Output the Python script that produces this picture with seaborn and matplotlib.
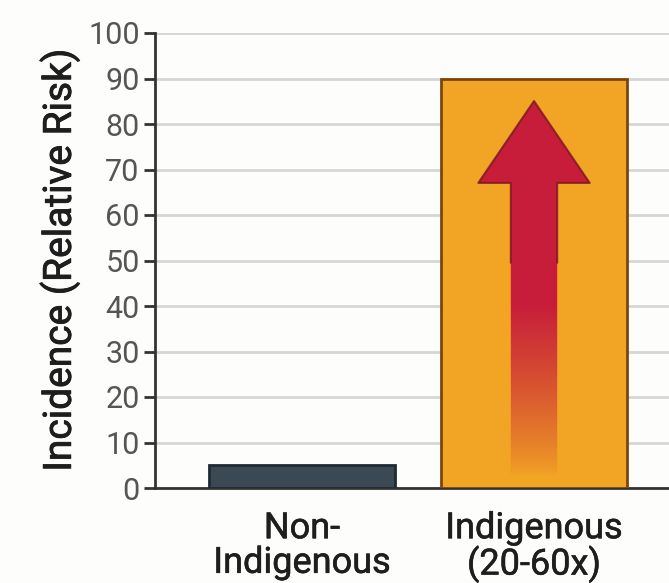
import numpy as np
import pandas as pd
import matplotlib
matplotlib.use("Agg")
import matplotlib.pyplot as plt
import seaborn as sns
from matplotlib.patches import Polygon
from matplotlib.colors import to_rgb
import matplotlib.patheffects as pe

categories = ["Non-\nIndigenous", "Indigenous\n(20-60x)"]
values = [5, 90]
y_ticks = [0, 10, 20, 30, 40, 50, 60, 70, 80, 90, 100]
y_label = "Incidence (Relative Risk)"

bar_colors = ["#3b4954", "#f2a424"]
edge_colors = ["#1f2a33", "#7a4510"]

sns.set_theme(style="white")
plt.rcParams["font.family"] = ["Roboto", "DejaVu Sans"]

fig = plt.figure(figsize=(6.69, 5.83), dpi=100)
fig.patch.set_facecolor("#fdfdfc")
ax = fig.add_axes([155/669, 95/583, 1 - 155/669, 455/583])
ax.set_facecolor("#fdfdfc")

df = pd.DataFrame({"group": categories, "value": values})
sns.barplot(data=df, x="group", y="value", hue="group", palette=bar_colors,
            saturation=1, width=0.8, legend=False, ax=ax, zorder=3)
for patch, ec in zip(ax.patches, edge_colors):
    patch.set_edgecolor(ec)
    patch.set_linewidth(2)

ax.set_ylim(0, 100)
ax.set_xlim(-0.634, 1.582)
ax.set_yticks(y_ticks)
ax.yaxis.grid(True, color="#d6d6d6", linewidth=2, zorder=0)
ax.set_axisbelow(True)
for s in ["top", "right"]:
    ax.spines[s].set_visible(False)
for s in ["left", "bottom"]:
    ax.spines[s].set_color("#333333")
    ax.spines[s].set_linewidth(2)
ax.tick_params(axis="y", which="both", left=True, length=8, width=2, color="#333333",
               labelsize=22, labelcolor="#555555", pad=3)
ax.tick_params(axis="x", bottom=False, labelsize=26, labelcolor="#1e1e1e", pad=10)
ax.set_xlabel("")
yl = ax.set_ylabel(y_label, fontsize=28, color="#1e1e1e", labelpad=6)
yl.set_path_effects([pe.withStroke(linewidth=0.6, foreground="#1e1e1e")])
for lbl in ax.get_xticklabels():
    lbl.set_linespacing(0.95)
    lbl.set_path_effects([pe.withStroke(linewidth=0.4, foreground="#1e1e1e")])

# gradient arrow inside the Indigenous bar
bar = ax.patches[1]
cx = bar.get_x() + bar.get_width() / 2
top = bar.get_height()
tip = top * 0.945
head_base = top * 0.745
bottom = top * 0.03
hw = bar.get_width() * 0.30
sw = bar.get_width() * 0.125
verts = [(cx - sw, bottom), (cx - sw, head_base), (cx - hw, head_base), (cx, tip),
         (cx + hw, head_base), (cx + sw, head_base), (cx + sw, bottom)]
clip = Polygon(verts, closed=True, transform=ax.transData, facecolor="none",
               edgecolor="none")
ax.add_patch(clip)

n = 300
ys = np.linspace(bottom, tip, n)
red = np.array(to_rgb("#c71d3a"))
org = np.array(to_rgb("#f2a424"))
t = np.clip((ys - top * 0.03) / (top * 0.42), 0, 1) ** 0.8
cols = org[None, :] * (1 - t[:, None]) + red[None, :] * t[:, None]
img = np.repeat(cols[:, None, :], 2, axis=1)
im = ax.imshow(img, extent=(cx - hw, cx + hw, bottom, tip), origin="lower",
               aspect="auto", zorder=4, interpolation="bilinear")
im.set_clip_path(clip)

outline = [(cx - sw, top * 0.55), (cx - sw, head_base), (cx - hw, head_base), (cx, tip),
           (cx + hw, head_base), (cx + sw, head_base), (cx + sw, top * 0.55)]
ox, oy = zip(*outline)
ax.plot(ox, oy, color="#7a1525", linewidth=1.5, zorder=5, alpha=0.8)

ax.set_xlim(-0.634, 1.582)
ax.set_ylim(0, 100)
fig.savefig("out.png", dpi=100, facecolor=fig.get_facecolor())
